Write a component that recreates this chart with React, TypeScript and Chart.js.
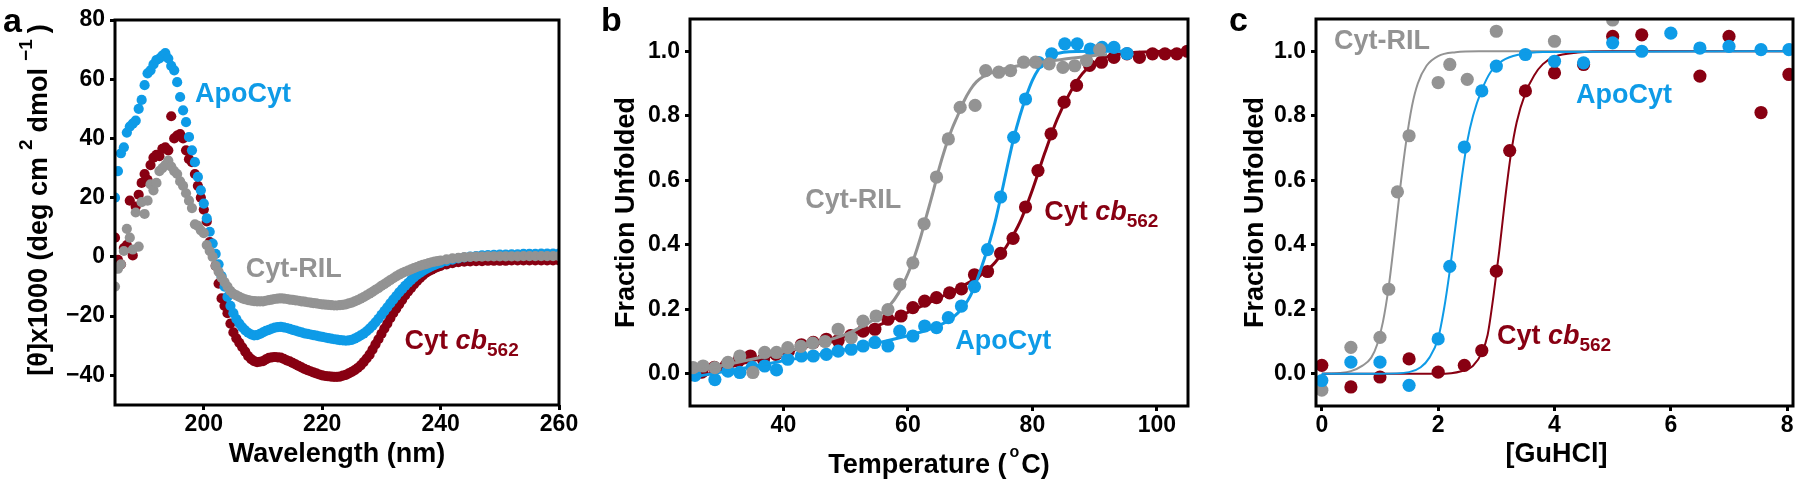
import React, { useEffect, useRef } from "react";
import { Chart, registerables } from "chart.js";

Chart.register(...registerables);

const FONT = "'Liberation Sans', Arial, Helvetica, sans-serif";
const BLUE = "#0E9BE7";
const RED = "#880012";
const GRAY = "#939393";
const H = 486;

// ---------------- Panel a: CD spectra ----------------
const WAVELENGTH = [
  185, 185.5, 186, 186.5, 187, 187.5, 188, 188.5, 189, 189.5,
  190, 190.5, 191, 191.5, 192, 192.5, 193, 193.5, 194, 194.5,
  195, 195.5, 196, 196.5, 197, 197.5, 198, 198.5, 199, 199.5,
  200, 200.5, 201, 201.5, 202, 202.5, 203, 203.5, 204, 204.5,
  205, 205.5, 206, 206.5, 207, 207.5, 208, 208.5, 209, 209.5,
  210, 210.5, 211, 211.5, 212, 212.5, 213, 213.5, 214, 214.5,
  215, 215.5, 216, 216.5, 217, 217.5, 218, 218.5, 219, 219.5,
  220, 220.5, 221, 221.5, 222, 222.5, 223, 223.5, 224, 224.5,
  225, 225.5, 226, 226.5, 227, 227.5, 228, 228.5, 229, 229.5,
  230, 230.5, 231, 231.5, 232, 232.5, 233, 233.5, 234, 234.5,
  235, 235.5, 236, 236.5, 237, 237.5, 238, 238.5, 239, 239.5,
  240, 241, 242, 243, 244, 245, 246, 247, 248, 249,
  250, 251, 252, 253, 254, 255, 256, 257, 258, 259, 260,
];
const CD_APOCYT = [
  20, 29, 35, 37, 42, 44, 45, 46, 50, 53,
  58, 62, 63, 65, 66.5, 67, 68, 68.8, 67, 64.5,
  63, 59, 54, 49.5, 45.5, 40.5, 36, 32, 27, 22.5,
  18, 13, 8.5, 4.5, 1, -2.5, -6.5, -10, -13.5, -16.5,
  -19, -21, -22.5, -23.8, -24.8, -25.6, -26.2, -26.5, -26.4, -26,
  -25.5, -25, -24.6, -24.2, -23.9, -23.7, -23.6, -23.8, -24, -24.3,
  -24.6, -24.9, -25.2, -25.5, -25.8, -26, -26.2, -26.4, -26.6, -26.8,
  -27, -27.2, -27.4, -27.6, -27.8, -27.9, -28.1, -28.2, -28.3, -28.2,
  -28, -27.6, -27.1, -26.5, -25.9, -25.1, -24.2, -23.2, -22.1, -20.9,
  -19.6, -18.3, -17, -15.7, -14.4, -13.2, -12, -10.9, -9.8, -8.8,
  -7.8, -6.9, -6.1, -5.4, -4.7, -4.1, -3.6, -3.1, -2.7, -2.3,
  -2, -1.4, -0.9, -0.5, -0.2, 0.1, 0.3, 0.5, 0.6, 0.7,
  0.8, 0.8, 0.9, 0.9, 1, 1, 1, 1.1, 1.1, 1.1, 1.1,
];
const CD_CYTCB562 = [
  6.5, -1, -2.5, 3, 4, 19, 0.5, 17, 21, 25,
  28, 26, 31, 33.5, 34.5, 34, 36.5, 37, 36, 47.5,
  40, 41, 41.5, 40, 36, 33, 32, 28, 24, 20,
  16, 12, 5, 1, -3, -9, -14, -16.5, -19, -22.5,
  -25.5, -27.5, -29, -30.5, -32, -33.5, -34.5, -35.2, -35.5, -35.4,
  -35.2, -34.6, -34.1, -33.9, -33.8, -33.9, -34, -34.4, -34.9, -35.3,
  -35.8, -36.3, -36.8, -37.3, -37.8, -38.2, -38.6, -39, -39.3, -39.7,
  -40, -40.2, -40.3, -40.4, -40.5, -40.5, -40.4, -40.1, -39.8, -39.3,
  -38.8, -38.2, -37.5, -36.6, -35.5, -34.3, -33, -31.3, -29.5, -27.8,
  -26, -24.2, -22.5, -20.7, -19, -17.5, -16, -14.5, -13, -11.7,
  -10.5, -9.3, -8.2, -7.2, -6.2, -5.4, -4.8, -4.3, -3.8, -3.4,
  -3, -2.5, -2.1, -1.8, -1.6, -1.5, -1.4, -1.4, -1.3, -1.3,
  -1.3, -1.3, -1.2, -1.2, -1.2, -1.2, -1.2, -1.2, -1.2, -1.2, -1.2,
];
const CD_CYTRIL = [
  -10, -4, -2.5, 2, 9.5, 6.5, 2.5, 15, 3.5, 18.5,
  14.5, 19, 24.5, 22.5, 25, 29, 30, 31, 32.5, 30.5,
  29, 28, 25.5, 24, 21.5, 19, 16.5, 11, 10.5, 9,
  8, 4, 2, 0, -3, -5, -7, -8.5, -10, -11.5,
  -12.5, -13, -13.5, -14, -14.3, -14.6, -14.8, -14.9, -15, -15,
  -15, -14.8, -14.6, -14.4, -14.2, -14.1, -14, -14.1, -14.2, -14.4,
  -14.5, -14.7, -14.8, -15, -15.1, -15.3, -15.4, -15.6, -15.7, -15.9,
  -16, -16.1, -16.2, -16.3, -16.4, -16.4, -16.3, -16.2, -16, -15.7,
  -15.4, -15, -14.6, -14.1, -13.6, -13, -12.4, -11.8, -11.1, -10.5,
  -9.8, -9.2, -8.5, -7.8, -7.2, -6.6, -6, -5.5, -5, -4.6,
  -4.2, -3.8, -3.4, -3, -2.7, -2.4, -2.1, -1.8, -1.6, -1.4,
  -1.2, -0.8, -0.5, -0.3, -0.1, 0, 0.1, 0.1, 0.2, 0.2,
  0.2, 0.2, 0.2, 0.2, 0.3, 0.3, 0.3, 0.3, 0.3, 0.3, 0.3,
];
const A_X_TICKS = [200, 220, 240, 260];
const A_Y_TICKS = [-40, -20, 0, 20, 40, 60, 80];

// ---------------- Panel b: thermal melts ----------------
const TEMP_RIL = [25.5, 27.1, 29.0, 31.1, 33.0, 35.1, 37.0, 38.9, 40.7, 42.8, 44.7, 46.7, 48.8, 50.9, 52.8, 54.9, 56.8, 58.7, 60.8, 62.6, 64.6, 66.5, 68.4, 70.8, 72.5, 74.6, 76.5, 78.6, 80.5, 82.7, 84.9, 86.8, 88.7, 90.8];
const FU_RIL_T = [0.019, 0.024, 0.019, 0.035, 0.055, 0.004, 0.066, 0.066, 0.081, 0.085, 0.095, 0.1, 0.138, 0.112, 0.163, 0.179, 0.199, 0.277, 0.344, 0.465, 0.61, 0.728, 0.826, 0.832, 0.94, 0.935, 0.94, 0.966, 0.966, 0.961, 0.95, 0.955, 0.971, 1.005];
const TEMP_APO = [25.8, 29.0, 31.1, 33.0, 35.0, 37.0, 38.9, 40.7, 42.9, 44.8, 46.9, 48.8, 50.9, 52.8, 54.7, 56.8, 58.7, 60.8, 62.7, 64.6, 66.5, 68.6, 70.7, 72.8, 74.9, 77.0, 78.9, 81.0, 83.1, 85.2, 87.2, 89.3, 91.2, 93.1, 95.2];
const FU_APO_T = [-0.005, -0.018, 0.008, 0.004, 0.02, 0.024, 0.012, 0.045, 0.055, 0.055, 0.06, 0.07, 0.076, 0.086, 0.097, 0.086, 0.132, 0.117, 0.148, 0.143, 0.174, 0.21, 0.27, 0.385, 0.548, 0.733, 0.852, 0.965, 0.992, 1.023, 1.023, 1.007, 1.012, 1.012, 0.993];
const TEMP_CB = [26.9, 28.9, 30.8, 32.8, 34.7, 36.8, 38.8, 40.8, 42.9, 44.8, 46.9, 48.8, 50.8, 52.8, 54.7, 56.8, 58.9, 60.8, 62.7, 64.6, 66.7, 68.6, 70.7, 72.8, 74.9, 76.9, 78.9, 80.9, 83.0, 85.1, 87.1, 89.2, 91.1, 93.1, 95.2, 97.2, 99.3, 101.3, 103.2, 104.9];
const FU_CB_T = [0.005, 0.02, 0.025, 0.04, 0.055, 0.045, 0.06, 0.07, 0.09, 0.097, 0.107, 0.103, 0.118, 0.132, 0.138, 0.169, 0.179, 0.205, 0.225, 0.236, 0.251, 0.263, 0.307, 0.317, 0.373, 0.42, 0.517, 0.63, 0.744, 0.842, 0.894, 0.956, 0.966, 0.981, 0.992, 0.981, 0.992, 0.992, 0.992, 1.0];
const FIT_T_RIL = [25, 30, 35, 40, 45, 50, 53, 55, 57, 58.5, 60, 61, 62, 63, 64, 65, 66, 67, 68, 69, 70, 71, 72, 74, 76, 80, 85, 90, 92];
const FIT_F_RIL = [0.005, 0.025, 0.045, 0.067, 0.092, 0.122, 0.15, 0.175, 0.21, 0.25, 0.31, 0.36, 0.42, 0.49, 0.56, 0.635, 0.7, 0.755, 0.8, 0.845, 0.88, 0.905, 0.92, 0.937, 0.948, 0.962, 0.975, 0.987, 0.99];
const FIT_T_APO = [25, 30, 35, 40, 45, 50, 55, 60, 63, 65, 67, 69, 70, 71, 72, 73, 74, 75, 76, 77, 78, 79, 80, 81, 82, 83, 85, 90, 95.5];
const FIT_F_APO = [-0.012, 0.005, 0.022, 0.04, 0.057, 0.075, 0.095, 0.118, 0.135, 0.15, 0.17, 0.21, 0.24, 0.285, 0.34, 0.4, 0.47, 0.555, 0.645, 0.73, 0.8, 0.86, 0.91, 0.945, 0.97, 0.985, 0.997, 1.0, 1.0];
const FIT_T_CB = [25, 30, 35, 40, 45, 50, 55, 60, 65, 70, 72, 74, 76, 78, 80, 82, 84, 86, 88, 90, 92, 95, 100, 105];
const FIT_F_CB = [-0.02, 0.012, 0.04, 0.065, 0.09, 0.117, 0.148, 0.19, 0.235, 0.285, 0.31, 0.345, 0.4, 0.47, 0.57, 0.685, 0.79, 0.87, 0.93, 0.965, 0.983, 0.994, 0.999, 1.0];
const B_X_TICKS = [40, 60, 80, 100];
const FU_TICKS = [0, 0.2, 0.4, 0.6, 0.8, 1.0];

// ---------------- Panel c: chemical denaturation ----------------
const GU_RIL = [0, 0.5, 1.0, 1.15, 1.3, 1.5, 2.0, 2.2, 2.5, 3.0, 4.0, 5.0];
const FU_RIL_C = [-0.051, 0.082, 0.113, 0.262, 0.564, 0.738, 0.903, 0.959, 0.913, 1.062, 1.031, 1.097];
const GU_APO = [0, 0.5, 1.0, 1.5, 2.0, 2.2, 2.45, 2.75, 3.0, 3.5, 4.0, 4.5, 5.0, 5.5, 6.0, 6.5, 7.0, 7.55, 8.03];
const FU_APO_C = [-0.021, 0.036, 0.036, -0.036, 0.108, 0.333, 0.703, 0.877, 0.954, 0.99, 0.969, 0.964, 1.026, 1.0, 1.056, 1.01, 1.015, 1.005, 1.005];
const GU_CB = [0, 0.5, 1.0, 1.5, 2.0, 2.45, 2.75, 3.0, 3.23, 3.5, 4.0, 4.5, 5.0, 5.5, 6.5, 7.0, 7.55, 8.03];
const FU_CB_C = [0.026, -0.041, -0.01, 0.046, 0.005, 0.026, 0.072, 0.318, 0.692, 0.877, 0.933, 0.959, 1.046, 1.051, 0.923, 1.046, 0.81, 0.928];
const FIT_GU_RIL = [0, 0.3, 0.5, 0.7, 0.85, 0.95, 1.05, 1.15, 1.25, 1.35, 1.45, 1.55, 1.65, 1.8, 2.0, 2.3, 2.7, 8.05];
const FIT_FU_RIL = [0.0, 0.002, 0.008, 0.025, 0.05, 0.09, 0.16, 0.27, 0.42, 0.58, 0.72, 0.83, 0.9, 0.955, 0.985, 0.997, 1.0, 1.0];
const FIT_GU_APO = [0, 1.0, 1.5, 1.7, 1.85, 2.0, 2.1, 2.2, 2.3, 2.4, 2.5, 2.6, 2.75, 2.9, 3.1, 3.4, 3.8, 8.05];
const FIT_FU_APO = [0, 0.0, 0.005, 0.02, 0.05, 0.11, 0.2, 0.32, 0.46, 0.6, 0.72, 0.8, 0.88, 0.935, 0.97, 0.99, 0.998, 1.0];
const FIT_GU_CB = [0, 2.0, 2.4, 2.6, 2.75, 2.85, 2.95, 3.05, 3.15, 3.25, 3.35, 3.5, 3.65, 3.8, 4.0, 4.4, 5.0, 8.05];
const FIT_FU_CB = [0, 0.0, 0.008, 0.025, 0.065, 0.12, 0.24, 0.38, 0.54, 0.68, 0.78, 0.87, 0.925, 0.96, 0.983, 0.996, 1.0, 1.0];
const C_X_TICKS = [0, 2, 4, 6, 8];

// ---------------- helpers ----------------
const pts = (xs: number[], ys: number[]) => xs.map((x, i) => ({ x, y: ys[i] }));

function scatterSet(xs: number[], ys: number[], color: string, r: number) {
  return {
    data: pts(xs, ys),
    backgroundColor: color,
    borderColor: color,
    borderWidth: 0,
    pointRadius: r,
    pointHoverRadius: r,
    showLine: false,
  };
}
function lineSet(xs: number[], ys: number[], color: string, w: number) {
  return {
    data: pts(xs, ys),
    borderColor: color,
    backgroundColor: color,
    borderWidth: w,
    pointRadius: 0,
    pointHoverRadius: 0,
    showLine: true,
    fill: false,
    cubicInterpolationMode: "monotone",
  };
}

type Seg = { t: string; size: number; italic?: boolean; dy?: number; padL?: number; padR?: number };

function drawRich(ctx: any, segs: Seg[], x: number, y: number, color: string, align: string, vertical = false) {
  const font = (s: Seg) => `${s.italic ? "italic " : ""}bold ${s.size}px ${FONT}`;
  const widths = segs.map((s) => {
    ctx.font = font(s);
    return (s.padL || 0) + ctx.measureText(s.t).width + (s.padR || 0);
  });
  const total = widths.reduce((a, b) => a + b, 0);
  ctx.save();
  ctx.translate(x, y);
  if (vertical) ctx.rotate(-Math.PI / 2);
  ctx.fillStyle = color;
  ctx.textAlign = "left";
  ctx.textBaseline = "alphabetic";
  let cx = align === "center" ? -total / 2 : 0;
  segs.forEach((s, i) => {
    ctx.font = font(s);
    ctx.fillText(s.t, cx + (s.padL || 0), s.dy || 0);
    cx += widths[i];
  });
  ctx.restore();
}

const cytCb = (size: number): Seg[] => [
  { t: "Cyt ", size },
  { t: "cb", size, italic: true },
  { t: "562", size: Math.round(size * 0.72), dy: 7 },
];

function makeGrid() {
  return {
    display: true,
    drawOnChartArea: false,
    drawTicks: true,
    tickLength: 5,
    tickWidth: 3,
    tickColor: "#000",
    lineWidth: 3,
    color: "#000",
  };
}

function buildConfig(spec: any) {
  const tickFont = { family: FONT, size: 23, weight: "bold" };
  return {
    type: "scatter",
    data: { datasets: spec.datasets },
    options: {
      responsive: false,
      maintainAspectRatio: false,
      animation: false,
      devicePixelRatio: 1,
      events: [],
      layout: { padding: { left: 0, top: spec.area.t, right: spec.width - spec.area.r, bottom: 0 } },
      plugins: { legend: { display: false }, tooltip: { enabled: false }, title: { display: false } },
      scales: {
        x: {
          type: "linear",
          position: "bottom",
          min: spec.x.min,
          max: spec.x.max,
          afterBuildTicks: (s: any) => {
            s.ticks = spec.x.ticks.map((v: number) => ({ value: v }));
          },
          afterFit: (s: any) => {
            s.height = H - spec.area.b;
          },
          grid: makeGrid(),
          border: { display: false },
          ticks: { font: tickFont, color: "#000", padding: 1, maxRotation: 0, autoSkip: false, callback: spec.x.fmt },
        },
        y: {
          type: "linear",
          position: "left",
          min: spec.y.min,
          max: spec.y.max,
          afterBuildTicks: (s: any) => {
            s.ticks = spec.y.ticks.map((v: number) => ({ value: v }));
          },
          afterFit: (s: any) => {
            s.width = spec.area.l;
          },
          grid: makeGrid(),
          border: { display: false },
          ticks: { font: tickFont, color: "#000", padding: 5, autoSkip: false, callback: spec.y.fmt },
        },
      },
    },
    plugins: [
      {
        id: "decor",
        afterDraw(chart: any) {
          const { ctx, chartArea: a } = chart;
          ctx.save();
          ctx.lineWidth = 3;
          ctx.strokeStyle = "#000";
          ctx.strokeRect(a.left, a.top, a.right - a.left, a.bottom - a.top);
          spec.decorate(ctx, chart);
          ctx.restore();
        },
      },
    ],
  };
}

const fmtInt = (v: any) => (Number(v) < 0 ? "\u2212" + Math.abs(Number(v)) : String(v));
const fmt1 = (v: any) => Number(v).toFixed(1);

const TITLE = 27;
const NOTE = 27;

const SPEC_A = {
  left: 0,
  width: 590,
  area: { l: 115, t: 20, r: 559, b: 405 },
  x: { min: 185, max: 260, ticks: A_X_TICKS, fmt: fmtInt },
  y: { min: -50, max: 80, ticks: A_Y_TICKS, fmt: fmtInt },
  datasets: [
    scatterSet(WAVELENGTH, CD_CYTRIL, GRAY, 5.1),
    scatterSet(WAVELENGTH, CD_APOCYT, BLUE, 5.1),
    scatterSet(WAVELENGTH, CD_CYTCB562, RED, 5.1),
  ],
  decorate: (ctx: any, chart: any) => {
    const a = chart.chartArea;
    const xs = chart.scales.x;
    const ys = chart.scales.y;
    drawRich(ctx, [{ t: "a", size: 34 }], 3, 32, "#000", "left");
    drawRich(ctx, [{ t: "Wavelength (nm)", size: TITLE }], (a.left + a.right) / 2, a.bottom + 57, "#000", "center");
    drawRich(
      ctx,
      [
        { t: "[\u03B8]x1000 (deg cm", size: TITLE },
        { t: "2", size: 19, dy: -15, padL: 7, padR: 7 },
        { t: "dmol", size: TITLE },
        { t: "\u22121", size: 19, dy: -15, padL: 7, padR: 6 },
        { t: ")", size: TITLE },
      ],
      47,
      a.top + 180,
      "#000",
      "center",
      true
    );
    drawRich(ctx, [{ t: "ApoCyt", size: NOTE }], xs.getPixelForValue(198.5), ys.getPixelForValue(52.3), BLUE, "left");
    drawRich(ctx, [{ t: "Cyt-RIL", size: NOTE }], xs.getPixelForValue(207.1), ys.getPixelForValue(-6.9), GRAY, "left");
    drawRich(ctx, cytCb(NOTE), xs.getPixelForValue(233.9), ys.getPixelForValue(-31.2), RED, "left");
  },
};

const SPEC_B = {
  left: 590,
  width: 610,
  area: { l: 100, t: 19, r: 598, b: 406 },
  x: { min: 25, max: 105, ticks: B_X_TICKS, fmt: fmtInt },
  y: { min: -0.1, max: 1.1, ticks: FU_TICKS, fmt: fmt1 },
  datasets: [
    lineSet(FIT_T_RIL, FIT_F_RIL, GRAY, 3),
    scatterSet(TEMP_RIL, FU_RIL_T, GRAY, 6.6),
    lineSet(FIT_T_APO, FIT_F_APO, BLUE, 3),
    scatterSet(TEMP_APO, FU_APO_T, BLUE, 6.6),
    lineSet(FIT_T_CB, FIT_F_CB, RED, 3),
    scatterSet(TEMP_CB, FU_CB_T, RED, 6.6),
  ],
  decorate: (ctx: any, chart: any) => {
    const a = chart.chartArea;
    const xs = chart.scales.x;
    const ys = chart.scales.y;
    drawRich(ctx, [{ t: "b", size: 34 }], 11, 31, "#000", "left");
    drawRich(
      ctx,
      [
        { t: "Temperature (", size: TITLE },
        { t: "o", size: 16, dy: -16, padL: 3, padR: 2 },
        { t: "C)", size: TITLE },
      ],
      (a.left + a.right) / 2,
      a.bottom + 67,
      "#000",
      "center"
    );
    drawRich(ctx, [{ t: "Fraction Unfolded", size: TITLE }], a.left - 56, (a.top + a.bottom) / 2, "#000", "center", true);
    drawRich(ctx, [{ t: "Cyt-RIL", size: NOTE }], xs.getPixelForValue(43.5), ys.getPixelForValue(0.514), GRAY, "left");
    drawRich(ctx, cytCb(NOTE), xs.getPixelForValue(81.9), ys.getPixelForValue(0.477), RED, "left");
    drawRich(ctx, [{ t: "ApoCyt", size: NOTE }], xs.getPixelForValue(67.6), ys.getPixelForValue(0.076), BLUE, "left");
  },
};

const SPEC_C = {
  left: 1200,
  width: 600,
  area: { l: 116, t: 19, r: 593, b: 406 },
  x: { min: -0.1, max: 8.1, ticks: C_X_TICKS, fmt: fmtInt },
  y: { min: -0.1, max: 1.1, ticks: FU_TICKS, fmt: fmt1 },
  datasets: [
    lineSet(FIT_GU_APO, FIT_FU_APO, BLUE, 2),
    scatterSet(GU_APO, FU_APO_C, BLUE, 6.6),
    lineSet(FIT_GU_CB, FIT_FU_CB, RED, 2),
    scatterSet(GU_CB, FU_CB_C, RED, 6.6),
    lineSet(FIT_GU_RIL, FIT_FU_RIL, GRAY, 2),
    scatterSet(GU_RIL, FU_RIL_C, GRAY, 6.6),
  ],
  decorate: (ctx: any, chart: any) => {
    const a = chart.chartArea;
    const xs = chart.scales.x;
    const ys = chart.scales.y;
    drawRich(ctx, [{ t: "c", size: 34 }], 29, 31, "#000", "left");
    drawRich(ctx, [{ t: "[GuHCl]", size: TITLE }], (a.left + a.right) / 2 + 2, a.bottom + 56, "#000", "center");
    drawRich(ctx, [{ t: "Fraction Unfolded", size: TITLE }], a.left - 53, (a.top + a.bottom) / 2, "#000", "center", true);
    drawRich(ctx, [{ t: "Cyt-RIL", size: NOTE }], xs.getPixelForValue(0.21), ys.getPixelForValue(1.008), GRAY, "left");
    drawRich(ctx, [{ t: "ApoCyt", size: NOTE }], xs.getPixelForValue(4.37), ys.getPixelForValue(0.838), BLUE, "left");
    drawRich(ctx, cytCb(NOTE), xs.getPixelForValue(3.01), ys.getPixelForValue(0.091), RED, "left");
  },
};

function PanelChart({ spec }: { spec: any }) {
  const ref = useRef<HTMLCanvasElement>(null);
  useEffect(() => {
    const chart = new Chart(ref.current as any, buildConfig(spec) as any);
    return () => chart.destroy();
  }, [spec]);
  return (
    <canvas
      ref={ref}
      width={spec.width}
      height={H}
      style={{ position: "absolute", left: spec.left, top: 0, width: spec.width, height: H }}
    />
  );
}

export default function App() {
  return (
    <div
      style={{
        position: "absolute",
        left: 0,
        top: 0,
        width: 1800,
        height: H,
        background: "#ffffff",
        overflow: "hidden",
      }}
    >
      <PanelChart spec={SPEC_A} />
      <PanelChart spec={SPEC_B} />
      <PanelChart spec={SPEC_C} />
    </div>
  );
}
